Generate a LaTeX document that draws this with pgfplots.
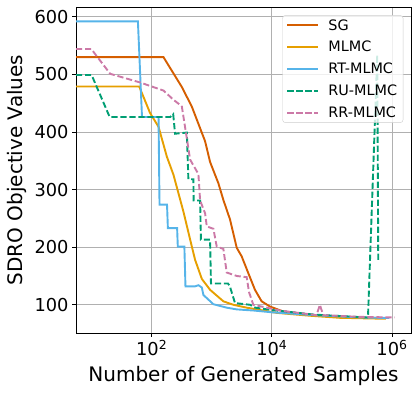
\documentclass[border=0pt]{standalone}
\usepackage{fontspec}
\setmainfont{DejaVu Sans}
\usepackage{pgfplots}
\pgfplotsset{compat=1.18}

\definecolor{cSG}{HTML}{D55E00}
\definecolor{cMLMC}{HTML}{E69F00}
\definecolor{cRT}{HTML}{56B4E9}
\definecolor{cRU}{HTML}{009E73}
\definecolor{cRR}{HTML}{CC79A7}
\definecolor{gridgray}{HTML}{B0B0B0}

\begin{document}
\begin{tikzpicture}
\begin{axis}[
    xmode=log,
    width=335pt, height=326pt,
    scale only axis,
    xmin=5.5, xmax=2.07e6,
    ymin=51, ymax=617,
    xtick={100,10000,1000000},
    xticklabels={{10\textsuperscript{2}},{10\textsuperscript{4}},{10\textsuperscript{6}}},
    minor xtick={},
    ytick={100,200,300,400,500,600},
    xtick pos=bottom, ytick pos=left,
    /pgf/number format/assume math mode=true,
    tick label style={font=\fontsize{17.8}{20}\selectfont},
    label style={font=\fontsize{20}{22}\selectfont, inner sep=0pt},
    xlabel={Number of Generated Samples},
    ylabel={SDRO Objective Values},
    xlabel style={at={(axis description cs:0.5,-0.149)}, anchor=base},
    ylabel style={at={(axis description cs:-0.160,0.5)}, anchor=base},
    tick align=outside,
    major tick length=3.9pt,
    tick style={black, line width=0.9pt},
    axis line style={line width=0.9pt},
    grid=major,
    grid style={color=gridgray, line width=0.9pt},
    legend style={at={(0.977,0.975)}, anchor=north east,
        font=\fontsize{14.4}{16}\selectfont,
        nodes={font=\fontsize{14.4}{16}\selectfont},
        draw=black!20, rounded corners=3pt, fill=white, fill opacity=0.8,
        text opacity=1, draw opacity=1, row sep=5.6pt, column sep=7pt,
        inner xsep=4pt, inner ysep=2pt},
    legend cell align=left,
    legend image code/.code={\draw[mark repeat=2,mark phase=2,#1] plot coordinates {(0pt,0pt) (31pt,0pt)};},
]

% SG
\addplot[color=cSG, line width=1.9pt] coordinates {
(5.5,530)(157,530)(318,478)(466,444)(774,384)(937,348)(1288,311)(1560,282)
(2014,248)(2602,199)(3148,184)(4055,155)(5236,126)(6761,106)(9290,97)
(15450,88.4)(42950,82.6)(135200,78.6)(300000,77.5)(807000,77)
};
\addlegendentry{SG}

% MLMC
\addplot[color=cMLMC, line width=1.9pt] coordinates {
(5.5,479)(62,479)(94,433)(130,409)(179,357)(230,326)(337,262)(466,201)
(528,178)(683,145)(937,126)(1560,106)(2286,100)(3810,95)(12000,86)
(43000,81)(135000,77.4)(787000,75.7)
};
\addlegendentry{MLMC}

% RT-MLMC
\addplot[color=cRT, line width=1.9pt] coordinates {
(5.5,592)(59,592)(69,426)(130,426)(135,274)(180,274)(186,233)(265,233)
(272,201)(350,201)(365,132)(528,132)(600,134)(683,130)(726,117)(1064,101)
(1774,95)(2600,92)(5000,90)(10000,87)(50000,82)(300000,78)(900000,77)
};
\addlegendentry{RT-MLMC}

% RU-MLMC
\addplot[color=cRU, line width=1.9pt, dash pattern=on 6.2pt off 2.8pt] coordinates {
(5.5,499)(10,499)(20,426)(203,426)(228,431)(245,397)(385,399)(408,318)
(494,318)(500,281)(640,281)(660,213)(937,213)(970,137)(1862,137)(2000,132)
(2437,103)(4330,100)(5300,95)(10000,91)(50000,83)(376000,78)(398000,78)
(568000,534)(590000,175)
};
\addlegendentry{RU-MLMC}

% RR-MLMC
\addplot[color=cRR, line width=1.9pt, dash pattern=on 6.2pt off 2.8pt] coordinates {
(5.5,544)(9.9,544)(20.4,501)(64,486)(157,472)(230,456)(297,447)(318,444)
(360,408)(436,352)(599,327)(640,281)(774,259)(826,236)(1064,232)(1210,201)
(1560,197)(1774,156)(2600,150)(3810,148)(4170,122)(4910,100)(8200,95)
(13650,90)(55500,82)(63000,100)(71500,82)(290000,79)(1110000,78)
};
\addlegendentry{RR-MLMC}

\coordinate (O) at (rel axis cs:0,0);
\end{axis}
\pgfresetboundingbox
\path[use as bounding box] ([shift={(-76pt,-59pt)}]O) rectangle ([shift={(341pt,333pt)}]O);
\end{tikzpicture}
\end{document}
